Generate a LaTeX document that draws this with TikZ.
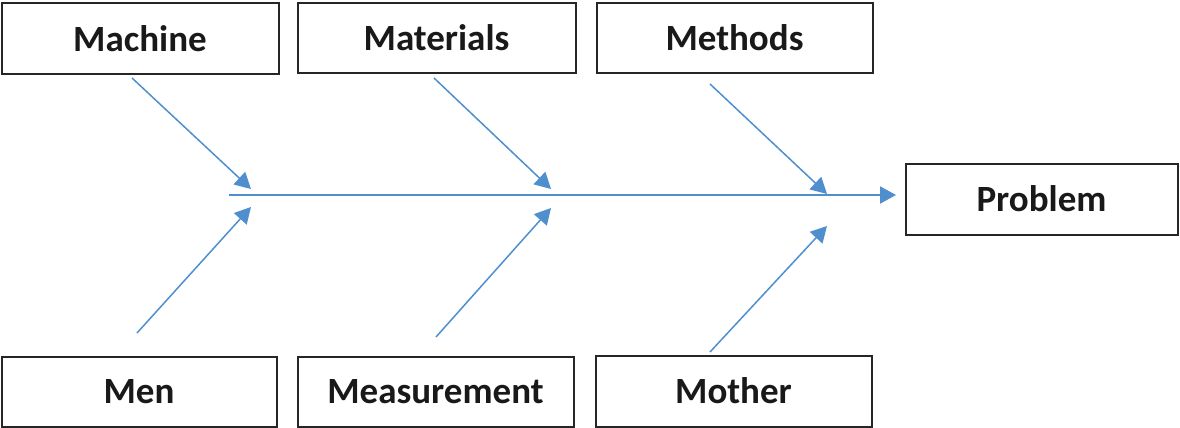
\documentclass[tikz,border=0pt]{standalone}
\usepackage{fontspec}
\setmainfont{Carlito}
\usetikzlibrary{arrows.meta}
\definecolor{bone}{RGB}{79,143,206}
\definecolor{edge}{RGB}{38,38,38}
\begin{document}
\begin{tikzpicture}[x=1pt,y=-1pt,
  cause/.style={draw=edge,line width=2pt,fill=white,inner sep=0pt,
    font=\fontsize{37}{40}\selectfont\bfseries,text=black!90},
  bonearrow/.style={draw=bone,line width=1.5pt,
    -{Triangle[length=16pt,width=17pt]}}]
\useasboundingbox (0,0) rectangle (1180,428);
% cause boxes
\node[cause,minimum width=277pt,minimum height=70pt] (machine) at (140,38.5) {Machine};
\node[cause,minimum width=278pt,minimum height=69pt] (materials) at (436.5,38) {Materials};
\node[cause,minimum width=276pt,minimum height=69pt] (methods) at (734.5,38) {Methods};
\node[cause,minimum width=275pt,minimum height=70pt] (men) at (139,392) {Men};
\node[cause,minimum width=276pt,minimum height=70pt] (measurement) at (435.5,391.5) {Measurement};
\node[cause,minimum width=276pt,minimum height=71pt] (mother) at (733.5,391) {Mother};
% effect box
\node[cause,minimum width=272pt,minimum height=71pt] (problem) at (1041.5,199) {Problem};
% spine
\coordinate (spinestart) at (229,195);
\coordinate (spineend) at (896,195);
\draw[bonearrow,line width=2pt] (spinestart) -- (spineend);
% ribs
\coordinate (machinetail) at (132,78);
\coordinate (machinehead) at (251,189);
\coordinate (mentail) at (137,333);
\coordinate (menhead) at (251,207);
\coordinate (materialstail) at (434,78);
\coordinate (materialshead) at (551,189);
\coordinate (measurementtail) at (436,337);
\coordinate (measurementhead) at (551,208);
\coordinate (methodstail) at (710,84);
\coordinate (methodshead) at (827,194);
\coordinate (mothertail) at (710,352);
\coordinate (motherhead) at (827,226);
\draw[bonearrow] (machinetail) -- (machinehead);
\draw[bonearrow] (mentail) -- (menhead);
\draw[bonearrow] (materialstail) -- (materialshead);
\draw[bonearrow] (measurementtail) -- (measurementhead);
\draw[bonearrow] (methodstail) -- (methodshead);
\draw[bonearrow] (mothertail) -- (motherhead);
\end{tikzpicture}
\end{document}
